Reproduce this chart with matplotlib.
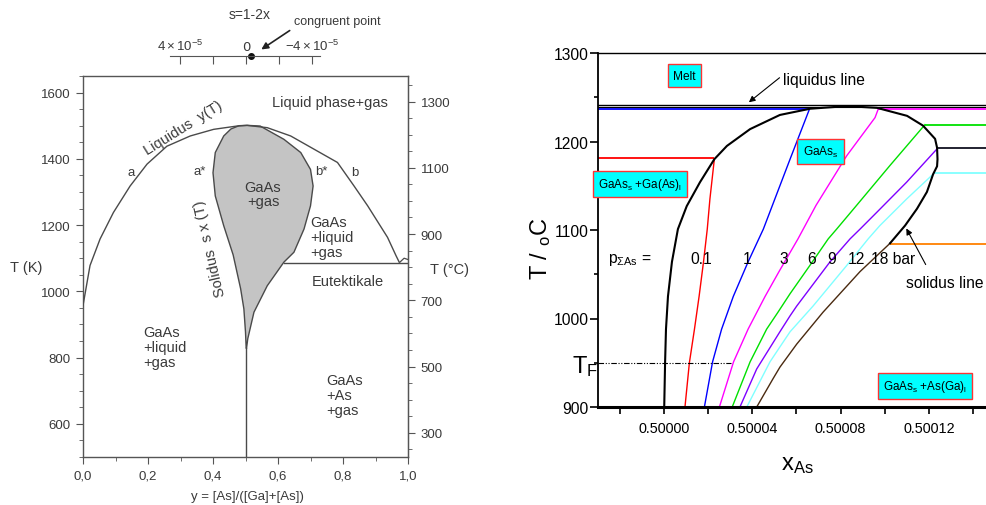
import numpy as np
import matplotlib
matplotlib.use('Agg')
import matplotlib.pyplot as plt
from matplotlib import font_manager as fm
from matplotlib.ticker import MultipleLocator, FixedLocator, FuncFormatter


def pick(names):
    for n in names:
        try:
            fm.findfont(fm.FontProperties(family=n), fallback_to_default=False)
            return n
        except Exception:
            continue
    return 'DejaVu Sans'


SANS = pick(['Liberation Sans', 'Arial', 'DejaVu Sans'])
NARROW = pick(['Liberation Sans Narrow', 'Arial Narrow', 'Liberation Sans'])
SCALE = 1.0 if 'Narrow' in NARROW else 0.9   # compensate for wider fallback font

plt.rcParams['mathtext.fontset'] = 'custom'
plt.rcParams['mathtext.rm'] = NARROW
plt.rcParams['mathtext.sf'] = SANS
plt.rcParams['mathtext.it'] = NARROW + ':italic'
plt.rcParams['mathtext.bf'] = NARROW + ':bold'

# ------------------------------------------------------------------ data (left panel)
# liquidus y(T)
liq_y = [0.0, 0.0216, 0.0525, 0.0936, 0.145, 0.197, 0.258, 0.330, 0.402, 0.474, 0.505,
         0.567, 0.639, 0.711, 0.783, 0.834, 0.876, 0.937, 0.963, 0.973]
liq_T = [957, 1078, 1158, 1238, 1318, 1384, 1438, 1469, 1489, 1499, 1501,
         1494, 1469, 1429, 1389, 1318, 1258, 1163, 1108, 1088]
# GaAs + gas region (solidus), closed outline
sol_y = [0.480, 0.455, 0.433, 0.407, 0.400, 0.407, 0.433, 0.462, 0.485, 0.495, 0.500, 0.502,
         0.503, 0.507, 0.526, 0.567, 0.618, 0.649, 0.680, 0.700, 0.708, 0.700, 0.670, 0.618,
         0.567, 0.545, 0.505]
sol_T = [1500, 1490, 1469, 1419, 1358, 1288, 1198, 1110, 1008, 947, 877, 830,
         827, 857, 937, 1017, 1088, 1118, 1188, 1258, 1318, 1368, 1419, 1459,
         1487, 1499, 1501]
stoich_y = [0.5, 0.5]
stoich_T = [500, 829]
eut_y = [0.618, 1.0]
eut_T = [1085, 1085]
as_y = [0.975, 0.988, 1.0]
as_T = [1088, 1100, 1096]
cong_s = -0.3e-5

# ------------------------------------------------------------------ data (right panel)
# x_As offsets from 0.5, in units of 1e-5
outer_dx = [0.01, 0.05, 0.09, 0.18, 0.36, 0.63, 1.03, 1.63, 2.28, 2.85, 3.90, 5.25, 6.61,
            8.29, 9.65, 11.01, 11.73, 12.28, 12.37, 12.39, 12.37, 12.19, 11.91, 11.46, 10.92, 10.24]
outer_T = [900, 951, 988, 1025, 1064, 1101, 1127, 1154, 1180, 1195, 1214, 1230, 1237,
           1240, 1238, 1229, 1218, 1203, 1193, 1180, 1172, 1163, 1143, 1124, 1105, 1085]

pressures = ['0.1', '1', '3', '6', '9', '12', '18 bar']
iso_dx = [
    [2.28, 2.08, 1.96, 1.79, 1.59, 1.38, 1.15, 0.95],
    [6.58, 5.71, 4.50, 3.81, 3.14, 2.61, 2.20, 1.83],
    [9.71, 9.56, 8.28, 6.89, 6.07, 5.21, 4.58, 3.81, 3.15, 2.51],
    [11.82, 10.24, 8.73, 7.82, 7.44, 6.61, 5.71, 5.16, 4.65, 3.90, 3.09],
    [12.38, 10.99, 9.64, 8.88, 8.43, 7.52, 6.01, 5.71, 5.25, 4.20, 3.44],
    [12.23, 10.99, 9.78, 9.25, 8.28, 6.75, 5.71, 5.20, 4.80, 3.75],
    [10.24, 8.88, 7.20, 6.01, 5.25, 4.94, 4.20],
]
iso_T = [
    [1180, 1135, 1101, 1064, 1025, 988, 950, 900],
    [1236, 1180, 1101, 1064, 1025, 988, 951, 900],
    [1237, 1227, 1184, 1128, 1090, 1053, 1025, 988, 951, 900],
    [1219, 1173, 1128, 1101, 1090, 1060, 1028, 1007, 988, 951, 900],
    [1192, 1154, 1120, 1101, 1090, 1064, 1014, 1003, 985, 943, 900],
    [1164, 1135, 1105, 1090, 1060, 1014, 985, 966, 951, 900],
    [1085, 1053, 1007, 971, 945, 932, 900],
]
iso_colors = ['#ff0000', '#0000ff', '#ff00ff', '#00e000', '#7f00ff', '#80ffff', '#4a2a10']
# horizontal tie lines: (T, dx start or None=left edge, dx end or None=right edge, colour)
tie_T = [1181, 1236.3, 1236.7, 1218.6, 1192.5, 1164.4, 1084.5]
tie_from = [None, None, 9.71, 11.82, 12.38, 12.23, 10.24]
tie_to = [2.28, 6.58, None, None, None, None, None]
tie_colors = ['#ff0000', '#0000ff', '#ff00ff', '#00e000', '#101020', '#80ffff', '#ff8000']
liquidus_T = 1240
T_F = 950

# ------------------------------------------------------------------ figure
W, H = 986, 506
fig = plt.figure(figsize=(W / 100, H / 100), dpi=100)


def fbox(l, t, r, b):
    return [l / W, 1 - b / H, (r - l) / W, (b - t) / H]


def fp(x, y):
    return (x / W, 1 - y / H)


GREY = '#555555'
TXT = '#3a3a3a'

# ================= left panel
axL = fig.add_axes(fbox(83, 77, 408, 458))
axL.set_xlim(0, 1.0)
axL.set_ylim(500, 1650)
for s in axL.spines.values():
    s.set_color(GREY)
    s.set_linewidth(1.0)
axL.xaxis.set_major_locator(MultipleLocator(0.2))
axL.xaxis.set_minor_locator(MultipleLocator(0.1))
axL.yaxis.set_major_locator(MultipleLocator(200))
axL.yaxis.set_minor_locator(MultipleLocator(50))
axL.xaxis.set_major_formatter(FuncFormatter(lambda v, p: f'{v:.1f}'.replace('.', ',')))
axL.tick_params(which='both', direction='out', color=GREY, labelcolor=TXT, labelsize=9.5,
                top=False, right=False)
axL.tick_params(which='major', length=5, pad=4)
axL.tick_params(which='minor', length=3)
for lab in axL.get_xticklabels() + axL.get_yticklabels():
    lab.set_family(SANS)

sec = axL.secondary_yaxis('right', functions=(lambda k: k - 273, lambda c: c + 273))
sec.yaxis.set_major_locator(FixedLocator([300, 500, 700, 900, 1100, 1300]))
sec.yaxis.set_minor_locator(MultipleLocator(50))
sec.spines['right'].set_color(GREY)
sec.tick_params(which='both', direction='out', color=GREY, labelcolor=TXT, labelsize=9.5)
sec.tick_params(which='major', length=5, pad=4)
sec.tick_params(which='minor', length=3)
for lab in sec.get_yticklabels():
    lab.set_family(SANS)

axL.fill(sol_y, sol_T, facecolor='#c4c4c4', edgecolor='#4a4a4a', lw=1.0, zorder=2)
axL.plot(liq_y, liq_T, color='#4a4a4a', lw=1.0, zorder=3)
axL.plot(stoich_y, stoich_T, color='#4a4a4a', lw=1.0)
axL.plot(eut_y, eut_T, color='#4a4a4a', lw=1.0)
axL.plot(as_y, as_T, color='#4a4a4a', lw=0.9)


def tL(x, y, s, **kw):
    fx = (x - 83) / 325
    fy = (458 - y) / 381
    kw.setdefault('ha', 'center')
    kw.setdefault('va', 'center')
    kw.setdefault('fontsize', 10.5)
    axL.text(fx, fy, s, transform=axL.transAxes, color=TXT, family=SANS, **kw)


tL(330, 103, 'Liquid phase+gas')
tL(183, 128, 'Liquidus  y(T)', rotation=32)
tL(131, 173, 'a', fontsize=9.5)
tL(200, 172, 'a*', fontsize=9.5)
tL(321, 172, 'b*', fontsize=9.5)
tL(355, 173, 'b', fontsize=9.5)
tL(263, 195, 'GaAs\n+gas', linespacing=1.05)
tL(310, 238, 'GaAs\n+liquid\n+gas', ha='left', linespacing=1.05)
tL(210, 249, 'Solidus  s x (T)', rotation=103)
tL(348, 282, 'Eutektikale')
tL(143, 348, 'GaAs\n+liquid\n+gas', ha='left', linespacing=1.05)
tL(326, 396, 'GaAs\n+As\n+gas', ha='left', linespacing=1.05)

fig.text(*fp(26, 268), 'T (K)', ha='center', va='center', fontsize=10.5, color=TXT, family=SANS)
fig.text(*fp(450, 270), 'T (°C)', ha='center', va='center', fontsize=10.5, color=TXT, family=SANS)
fig.text(*fp(247, 497), 'y = [As]/([Ga]+[As])', ha='center', va='center', fontsize=9.5,
         color=TXT, family=SANS)

# top s-axis
axS = fig.add_axes(fbox(170, 57, 320, 67))
axS.set_xlim(4.6e-5, -4.5e-5)
axS.set_ylim(0, 1)
axS.patch.set_alpha(0)
for s in ['bottom', 'left', 'right']:
    axS.spines[s].set_visible(False)
axS.spines['top'].set_color(GREY)
axS.xaxis.tick_top()
axS.set_xticks([4e-5, 2e-5, 0, -2e-5, -4e-5])
axS.set_xticklabels([r'$\mathsf{4\times10^{-5}}$', '', '0', '', r'$\mathsf{-4\times10^{-5}}$'])
axS.tick_params(axis='x', direction='in', length=6, color=GREY, labelcolor=TXT, labelsize=9.5, pad=2)
axS.set_yticks([])
axS.plot([cong_s], [1], 'o', color='#111111', ms=4, clip_on=False)
fig.text(*fp(250, 15), 's=1-2x', ha='center', va='center', fontsize=10, color=TXT, family=SANS)
fig.text(*fp(337, 22), 'congruent point', ha='center', va='center', fontsize=9, color=TXT, family=SANS)
fig.add_artist(matplotlib.patches.FancyArrowPatch(fp(292, 30), fp(259, 52), transform=fig.transFigure,
                                                  arrowstyle='-|>', mutation_scale=10, color='#222222', lw=1.2))

# ================= right panel
px0 = 0.5 + (598 - 664) * 4e-5 / 88.3
px1 = 0.5 + (986 - 664) * 4e-5 / 88.3
axR = fig.add_axes(fbox(598, 54, 986, 408))
axR.set_xlim(px0, px1)
axR.set_ylim(900, 1300)
axR.spines['right'].set_visible(False)
axR.spines['top'].set_linewidth(1.0)
axR.spines['left'].set_linewidth(1.3)
axR.spines['bottom'].set_linewidth(2.2)
axR.xaxis.set_major_locator(FixedLocator([0.5, 0.50004, 0.50008, 0.50012]))
axR.xaxis.set_minor_locator(FixedLocator([0.49998, 0.50002, 0.50006, 0.50010, 0.50014]))
axR.xaxis.set_major_formatter(FuncFormatter(lambda v, p: f'{v:.5f}'))
axR.yaxis.set_major_locator(MultipleLocator(100))
axR.yaxis.set_minor_locator(MultipleLocator(50))
axR.tick_params(which='both', direction='out', top=False, right=False, width=1.2)
axR.tick_params(axis='x', which='both', length=5, pad=5, labelsize=11.5 * SCALE)
axR.tick_params(axis='y', which='major', length=6, pad=1, labelsize=12.5 * SCALE)
axR.tick_params(axis='y', which='minor', length=3)
for lab in axR.get_xticklabels() + axR.get_yticklabels():
    lab.set_family(NARROW)


def xs(d):
    return 0.5 + np.asarray(d) * 1e-5


axR.axhline(liquidus_T + 0.9, color='black', lw=1.0)
axR.axhline(liquidus_T - 1.4, color='black', lw=0.8)
for T, a, b, c in zip(tie_T, tie_from, tie_to, tie_colors):
    x_a = px0 if a is None else xs(a)
    x_b = px1 if b is None else xs(b)
    axR.hlines(T, x_a, x_b, color=c, lw=1.3)
for d, T, c in zip(iso_dx, iso_T, iso_colors):
    axR.plot(xs(d), T, color=c, lw=1.0)
axR.plot(xs(outer_dx), outer_T, color='black', lw=1.5)
axR.plot([px0, xs(3.05)], [T_F, T_F], color='black', lw=0.8, dashes=[5, 1.5, 1, 1.5, 1, 1.5])


def tR(x, y, s, size=12.5, scale=True, **kw):
    fx = (x - 598) / 388
    fy = (408 - y) / 354
    kw.setdefault('ha', 'center')
    kw.setdefault('va', 'center')
    return axR.text(fx, fy, s, transform=axR.transAxes, family=NARROW, clip_on=False,
                    fontsize=size * (SCALE if scale else 1.0), **kw)


box = dict(boxstyle='square,pad=0.45', fc='#00ffff', ec='#ff3333', lw=1.0)
tR(684.7, 76.5, 'Melt', size=9.5, bbox=box)
tR(820.5, 152.5, r'GaAs$_\mathrm{s}$', size=9.5, bbox=box)
tR(640, 185, r'GaAs$_\mathrm{s}$ +Ga(As)$_\mathrm{l}$', size=9.3, bbox=box)
tR(925, 387, r'GaAs$_\mathrm{s}$ +As(Ga)$_\mathrm{l}$', size=9.3, bbox=box)
tR(783, 80, 'liquidus line', ha='left')
tR(984, 283, 'solidus line', ha='right')
tR(630, 260, r'p$_{\Sigma\mathrm{As}}$ =')
for lab, x in zip(pressures, [701, 746.7, 783.3, 811.7, 831.7, 856.7, 892.7]):
    tR(x, 260, lab)
tR(585, 367, r'T$_\mathrm{F}$', size=17, scale=False)

axR.annotate('', xy=((746.7 - 598) / 388, (408 - 105) / 354), xycoords='axes fraction',
             xytext=((781.7 - 598) / 388, (408 - 77) / 354), textcoords='axes fraction',
             arrowprops=dict(arrowstyle='-|>', color='black', lw=0.8, mutation_scale=9))
axR.annotate('', xy=((905 - 598) / 388, (408 - 227) / 354), xycoords='axes fraction',
             xytext=((927 - 598) / 388, (408 - 268) / 354), textcoords='axes fraction',
             arrowprops=dict(arrowstyle='-|>', color='black', lw=0.8, mutation_scale=9))

fig.text(*fp(541, 249), r'T / $_\mathrm{o}$C', rotation=90, ha='center', va='center',
         fontsize=17, family=NARROW)
fig.text(*fp(797, 465), r'x$_\mathrm{As}$', ha='center', va='center', fontsize=17,
         family=NARROW)

fig.savefig('out.png', dpi=100)
